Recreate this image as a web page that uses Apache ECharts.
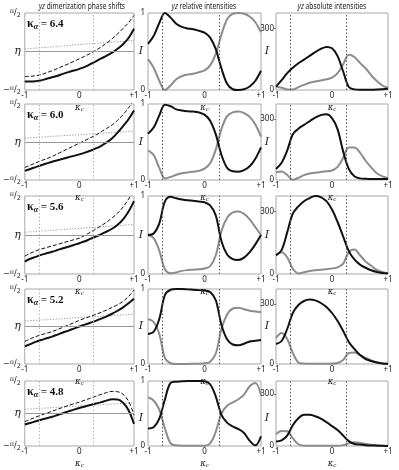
<!DOCTYPE html>
<html><head><meta charset="utf-8">
<script src="https://cdn.jsdelivr.net/npm/echarts@6/dist/echarts.min.js"></script>
<style>html,body{margin:0;padding:0;background:#fff}#c{width:399px;height:470px}</style>
</head><body><div id="c"></div>
<script>
// ---------------- data ----------------
const kc = [-1,-0.9,-0.8,-0.7,-0.6,-0.5,-0.4,-0.3,-0.2,-0.1,0,0.1,0.2,0.3,0.4,0.5,0.6,0.7,0.8,0.9,1];
const kcDotted = [-1,-0.5,0,0.5,1];
const transitions = [-0.74, 0.26];
const kappaAlpha = ['6.4','6.0','5.6','5.2','4.8'];
const colTitles = ['dimerization phase shifts','relative intensities','absolute intensities'];
const absTicks = [0, 300];

// phase shifts in units of pi/2
const phaseSolid = [
 [-0.78,-0.78,-0.77,-0.75,-0.71,-0.67,-0.63,-0.58,-0.535,-0.495,-0.45,-0.40,-0.33,-0.255,-0.18,-0.11,-0.03,0.07,0.19,0.35,0.59],
 [-0.76,-0.71,-0.66,-0.61,-0.565,-0.52,-0.48,-0.44,-0.40,-0.365,-0.325,-0.28,-0.23,-0.17,-0.10,-0.01,0.10,0.25,0.42,0.60,0.83],
 [-0.68,-0.61,-0.56,-0.51,-0.47,-0.43,-0.385,-0.34,-0.30,-0.255,-0.21,-0.16,-0.10,-0.04,0.02,0.09,0.16,0.26,0.40,0.60,0.87],
 [-0.53,-0.47,-0.41,-0.36,-0.315,-0.27,-0.215,-0.16,-0.11,-0.055,0.0,0.05,0.10,0.15,0.21,0.27,0.34,0.42,0.51,0.62,0.74],
 [-0.34,-0.29,-0.24,-0.19,-0.145,-0.10,-0.045,0.01,0.065,0.12,0.17,0.215,0.26,0.305,0.35,0.40,0.435,0.43,0.33,0.10,-0.32]
];
const phaseDashed = [
 [-0.65,-0.645,-0.63,-0.60,-0.55,-0.50,-0.44,-0.38,-0.32,-0.255,-0.19,-0.12,-0.05,0.03,0.12,0.22,0.33,0.46,0.60,0.75,0.94],
 [-0.67,-0.61,-0.55,-0.49,-0.44,-0.38,-0.31,-0.24,-0.17,-0.10,-0.03,0.04,0.11,0.18,0.27,0.36,0.45,0.57,0.72,0.90,1.12],
 [-0.54,-0.47,-0.41,-0.36,-0.32,-0.28,-0.24,-0.20,-0.16,-0.12,-0.08,-0.01,0.07,0.15,0.24,0.33,0.44,0.56,0.72,0.92,1.15],
 [-0.40,-0.33,-0.27,-0.22,-0.18,-0.135,-0.08,-0.02,0.04,0.10,0.165,0.22,0.27,0.32,0.38,0.44,0.51,0.58,0.67,0.80,0.97],
 [-0.25,-0.18,-0.11,-0.05,0.01,0.07,0.13,0.19,0.25,0.30,0.35,0.41,0.47,0.53,0.59,0.645,0.68,0.67,0.59,0.38,-0.05]
];
const phaseDotted = [
 [0.07,0.12,0.18,0.23,0.29],
 [0.10,0.15,0.19,0.24,0.29],
 [0.07,0.12,0.17,0.22,0.27],
 [0.15,0.19,0.24,0.28,0.33],
 [0.13,0.18,0.23,0.28,0.33]
];
// relative intensities
const relBlack = [
 [0.60,0.70,0.87,1.0,0.94,0.86,0.82,0.80,0.79,0.77,0.745,0.68,0.53,0.28,0.08,0.01,0.0,0.01,0.045,0.12,0.25],
 [0.61,0.69,0.85,0.99,0.97,0.93,0.915,0.905,0.90,0.89,0.86,0.78,0.60,0.33,0.16,0.115,0.11,0.13,0.18,0.28,0.43],
 [0.50,0.52,0.65,0.93,0.99,0.97,0.955,0.945,0.94,0.93,0.92,0.88,0.75,0.42,0.25,0.19,0.18,0.21,0.28,0.38,0.50],
 [0.40,0.43,0.60,0.92,0.99,1.0,1.0,0.995,0.99,0.985,0.98,0.96,0.85,0.52,0.33,0.26,0.25,0.27,0.30,0.31,0.32],
 [0.27,0.29,0.42,0.72,0.97,0.99,0.995,1.0,1.0,1.0,0.995,0.95,0.76,0.48,0.36,0.30,0.26,0.20,0.08,0.01,0.15]
];
const relGray = [
 [0.40,0.29,0.12,0.0,0.06,0.14,0.18,0.20,0.21,0.23,0.255,0.32,0.47,0.72,0.92,0.99,1.0,0.99,0.955,0.88,0.75],
 [0.39,0.33,0.16,0.02,0.04,0.07,0.09,0.10,0.11,0.12,0.15,0.22,0.40,0.67,0.84,0.89,0.90,0.88,0.83,0.73,0.57],
 [0.50,0.46,0.30,0.06,0.01,0.02,0.04,0.05,0.055,0.06,0.07,0.10,0.24,0.55,0.72,0.79,0.80,0.77,0.70,0.60,0.50],
 [0.60,0.56,0.40,0.08,0.01,0.0,0.0,0.0,0.005,0.005,0.01,0.03,0.14,0.47,0.66,0.74,0.75,0.73,0.71,0.70,0.69],
 [0.75,0.70,0.56,0.27,0.04,0.01,0.005,0.005,0.005,0.005,0.005,0.04,0.22,0.50,0.62,0.67,0.72,0.79,0.92,0.97,0.78]
];
// absolute intensities
const absBlack = [
 [16,48,82,108,130,148,166,184,200,210,203,165,90,15,3,1,1,1,2,4,6],
 [54,85,145,226,253,272,290,308,320,324,305,250,140,55,18,8,6,5,5,5,5],
 [90,115,200,290,325,350,365,375,370,350,310,250,180,110,70,45,30,18,10,5,2],
 [100,115,175,255,295,315,322,318,305,285,255,215,165,110,75,45,25,15,8,3,1],
 [26,33,60,120,160,180,180,172,158,138,115,92,60,28,12,8,5,3,2,1,0]
];
const absGray = [
 [16,11,3,2,14,25,35,41,46,52,60,82,125,172,161,132,106,72,44,22,10],
 [38,42,25,1,11,24,32,36,40,43,47,65,110,160,160,135,95,62,33,18,10],
 [90,105,80,25,3,8,14,18,20,23,27,32,50,105,118,90,60,40,20,10,3],
 [130,155,125,55,8,2,1,1,1,1,2,5,20,55,58,45,30,18,8,3,1],
 [68,86,85,45,10,2,1,1,1,1,1,1,5,15,21,18,12,7,4,2,1]
];

// ---------------- layout ----------------
const colLeft = [21, 148, 276];
const colWidth = [113, 113, 112];
const titleX = [82, 204, 332];
const rowTop = [13, 104, 196, 289, 381];
const rowHeight = [77, 76, 78, 75, 74];
const BLACK = '#111', GRAY = '#8c8c8c';
const sans = 'Noto Sans';

const chart = echarts.init(document.getElementById('c'), null, {renderer:'canvas'});
const grids = [], xAxes = [], yAxes = [], series = [], graphics = [];

const kcName = {
  name: '{k|κ}{c|c}', nameLocation: 'middle', nameGap: 12, nameMoveOverlap: false,
  nameTextStyle: { rich: {
    k: {fontFamily:'DejaVu Serif', fontStyle:'italic', fontSize:8.5, color:'#222', lineHeight:11},
    c: {fontFamily:'DejaVu Serif', fontStyle:'italic', fontSize:5.5, color:'#222', verticalAlign:'bottom', lineHeight:6}
  }}
};
const piRich = {
  p: {fontFamily:'DejaVu Serif', fontSize:6.5, color:'#222', verticalAlign:'top', lineHeight:6},
  s: {fontFamily:'DejaVu Sans', fontSize:8, color:'#222', lineHeight:11},
  q: {fontFamily:'DejaVu Sans', fontSize:6.5, color:'#222', verticalAlign:'bottom', lineHeight:6},
  m: {fontFamily:'DejaVu Sans', fontSize:8, color:'#222', lineHeight:11},
  e: {fontFamily:'DejaVu Serif', fontStyle:'italic', fontSize:11, color:'#222'}
};
const iFont = {fontFamily:'DejaVu Serif', fontStyle:'italic', fontSize:11, fill:'#222'};
const noLine = {show:false, onZero:false};

function line(g, xs, ys, color, width, type) {
  return {type:'line', xAxisIndex:g, yAxisIndex:g, data: xs.map((k,i)=>[k, ys[i]]),
    showSymbol:false, smooth:0.35, clip:true, silent:true,
    lineStyle:{color, width, type}, z:3};
}
function vMarks(g, color, extra) {
  const data = transitions.map(t => ({xAxis:t, lineStyle:{color, type:[1.5,2], width:1}}));
  if (extra) data.push(extra);
  return {type:'line', xAxisIndex:g, yAxisIndex:g, data:[], silent:true, z:1,
    markLine:{symbol:'none', silent:true, label:{show:false}, animation:false, data}};
}

for (let r = 0; r < 5; r++) {
  for (let c = 0; c < 3; c++) {
    const g = grids.length;
    grids.push({left: colLeft[c], top: rowTop[r], width: colWidth[c], height: rowHeight[r],
      show:true, borderColor:'#a8a8a8', borderWidth:1, containLabel:false});
    xAxes.push(Object.assign({gridIndex:g, type:'value', min:-1, max:1, interval:1, position:'bottom',
      axisLine:noLine, axisTick:{show:false}, splitLine:{show:false},
      axisLabel:{fontFamily:sans, fontSize:8, color:'#222', margin:2,
        formatter: v => v === 1 ? '+1' : (v === -1 ? '-1' : '0')}}, kcName));
    const midY = rowTop[r] + rowHeight[r] / 2;
    if (c === 0) {
      yAxes.push({gridIndex:g, type:'value', min:-1, max:1, interval:1, position:'left',
        axisLine:noLine, axisTick:{show:false}, splitLine:{show:false},
        axisLabel:{margin:4, rich:piRich,
          formatter: v => v === 1 ? '{p|π}{s|/}{q|2}' : (v === -1 ? '{m|−}{p|π}{s|/}{q|2}' : '{e|η}')}});
      series.push(vMarks(g, '#b5b5b5', {yAxis:0, lineStyle:{color:'#999', type:'solid', width:1}}));
      series.push(line(g, kcDotted, phaseDotted[r], '#9a9a9a', 1, [1.2,1.6]));
      series.push(line(g, kc, phaseDashed[r], BLACK, 1, [4,2]));
      series.push(line(g, kc, phaseSolid[r], BLACK, 2, 'solid'));
    } else if (c === 1) {
      yAxes.push({gridIndex:g, type:'value', min:0, max:1, interval:1, position:'left',
        axisLine:noLine, axisTick:{show:false}, splitLine:{show:false},
        axisLabel:{fontFamily:sans, fontSize:8, color:'#222', margin:3}});
      graphics.push({type:'text', x: colLeft[c] - 7, y: midY, z:10,
        style:Object.assign({text:'I', align:'center', verticalAlign:'middle'}, iFont)});
      series.push(vMarks(g, '#555'));
      series.push(line(g, kc, relGray[r], GRAY, 2, 'solid'));
      series.push(line(g, kc, relBlack[r], BLACK, 2, 'solid'));
    } else {
      yAxes.push({gridIndex:g, type:'value', min:0, max:375, interval:75, position:'left',
        axisLine:noLine, splitLine:{show:false},
        axisTick:{show:true, length:2, lineStyle:{color:'#777'}, customValues:[300]},
        axisLabel:{fontFamily:sans, fontSize:8, color:'#222', margin:2, customValues:absTicks}});
      graphics.push({type:'text', x: colLeft[c] - 9, y: midY, z:10,
        style:Object.assign({text:'I', align:'center', verticalAlign:'middle'}, iFont)});
      series.push(vMarks(g, '#555'));
      series.push(line(g, kc, absGray[r], GRAY, 2, 'solid'));
      series.push(line(g, kc, absBlack[r], BLACK, 2, 'solid'));
    }
  }
  graphics.push({type:'text', x: 27, y: rowTop[r] + 11, z:10,
    style:{text:'{k|κ}{a|α}{e| = ' + kappaAlpha[r] + '}', verticalAlign:'middle',
      rich:{k:{fontFamily:'Liberation Serif', fontWeight:'bold', fontSize:12, fill:'#111', lineHeight:13},
            a:{fontFamily:'Liberation Serif', fontWeight:'bold', fontStyle:'italic', fontSize:8, fill:'#111', verticalAlign:'bottom', lineHeight:8},
            e:{fontFamily:'Liberation Serif', fontWeight:'bold', fontSize:11, fill:'#111', lineHeight:13}}}});
}
for (let c = 0; c < 3; c++) {
  graphics.push({type:'text', x: titleX[c], y: 7, z:10, scaleX:0.78,
    style:{text:'{i|yz} ' + colTitles[c], align:'center', verticalAlign:'middle',
      rich:{i:{fontFamily:sans, fontStyle:'italic', fontSize:8.5, fill:'#222'}},
      fontFamily:sans, fontSize:8.5, fill:'#222'}});
}

chart.setOption({animation:false, backgroundColor:'#fff', grid:grids, xAxis:xAxes, yAxis:yAxes, series, graphic:graphics});
</script></body></html>
